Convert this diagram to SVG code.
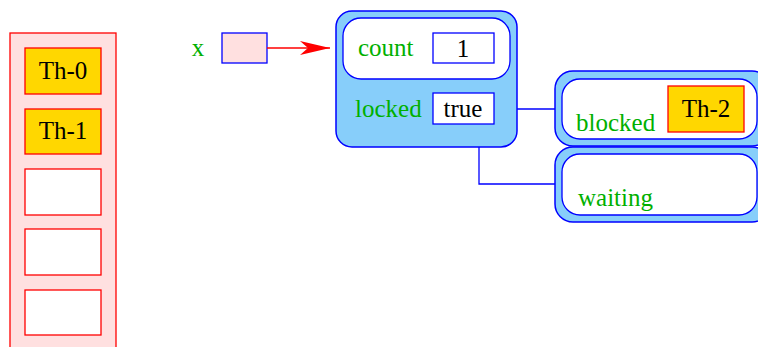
<svg xmlns="http://www.w3.org/2000/svg" width="758" height="347" viewBox="0 0 758 347">
<defs>
<style>
text{font-family:"Liberation Serif","Times New Roman",serif;font-size:25px}
.lbl{fill:#00b000}
.val{fill:#000}
.slot{fill:#fff;stroke:#ff0000;stroke-width:1.3}
.th{fill:#ffd700;stroke:#ff0000;stroke-width:1.3}
.outer{fill:#87cefa;stroke:#0000ff;stroke-width:1.5}
.inner{fill:#fff;stroke:#0000ff;stroke-width:1.3}
.vbox{fill:#fff;stroke:#0000ff;stroke-width:1.3}
.conn{fill:none;stroke:#0000ff;stroke-width:1.3}
</style>
<marker id="arr" viewBox="0 0 30 14" refX="30" refY="7" markerWidth="30" markerHeight="14" markerUnits="userSpaceOnUse" orient="auto">
<path d="M0,0 L30,7 L0,14 L8,7 Z" fill="#ff0000"/>
</marker>
</defs>
<g id="threads">
<rect x="10" y="33" width="106" height="330" fill="#ffe0e0" stroke="#ff0000" stroke-width="1.3"/>
<rect class="th" x="25" y="48" width="76" height="46"/>
<text class="val" x="63" y="79" text-anchor="middle">Th-0</text>
<rect class="th" x="25" y="109" width="76" height="45"/>
<text class="val" x="63" y="139" text-anchor="middle">Th-1</text>
<rect class="slot" x="25" y="169" width="76" height="46"/>
<rect class="slot" x="25" y="229" width="76" height="46"/>
<rect class="slot" x="25" y="290" width="76" height="45"/>
</g>
<g id="var-x">
<text class="lbl" x="198" y="56" text-anchor="middle">x</text>
<rect x="222" y="33" width="45" height="30" fill="#ffe0e0" stroke="#0000ff" stroke-width="1.3"/>
</g>
<g id="lock">
<rect class="outer" x="336" y="11" width="181" height="136" rx="16"/>
<rect class="inner" x="343" y="18" width="167" height="61" rx="18"/>
<text class="lbl" x="358" y="56">count</text>
<rect class="vbox" x="433" y="33" width="61" height="30"/>
<text class="val" x="463" y="57" text-anchor="middle">1</text>
<text class="lbl" x="355" y="117">locked</text>
<rect class="vbox" x="433" y="93" width="61" height="31"/>
<text class="val" x="463" y="117" text-anchor="middle">true</text>
</g>
<g id="blocked">
<rect class="outer" x="555" y="71" width="215" height="75" rx="18"/>
<rect class="inner" x="562" y="79" width="195" height="60" rx="18"/>
<text class="lbl" x="576" y="131">blocked</text>
<rect class="th" x="668" y="86" width="76" height="46"/>
<text class="val" x="706" y="117" text-anchor="middle">Th-2</text>
</g>
<g id="waiting">
<rect class="outer" x="555" y="147" width="215" height="75" rx="18"/>
<rect class="inner" x="562" y="154" width="195" height="61" rx="18"/>
<text class="lbl" x="578" y="206">waiting</text>
</g>
<g id="connectors">
<line x1="267" y1="48" x2="330" y2="48" stroke="#ff0000" stroke-width="1.3" marker-end="url(#arr)"/>
<path class="conn" d="M517,109 H555"/>
<path class="conn" d="M479,147 V184 H555"/>
</g>
</svg>
